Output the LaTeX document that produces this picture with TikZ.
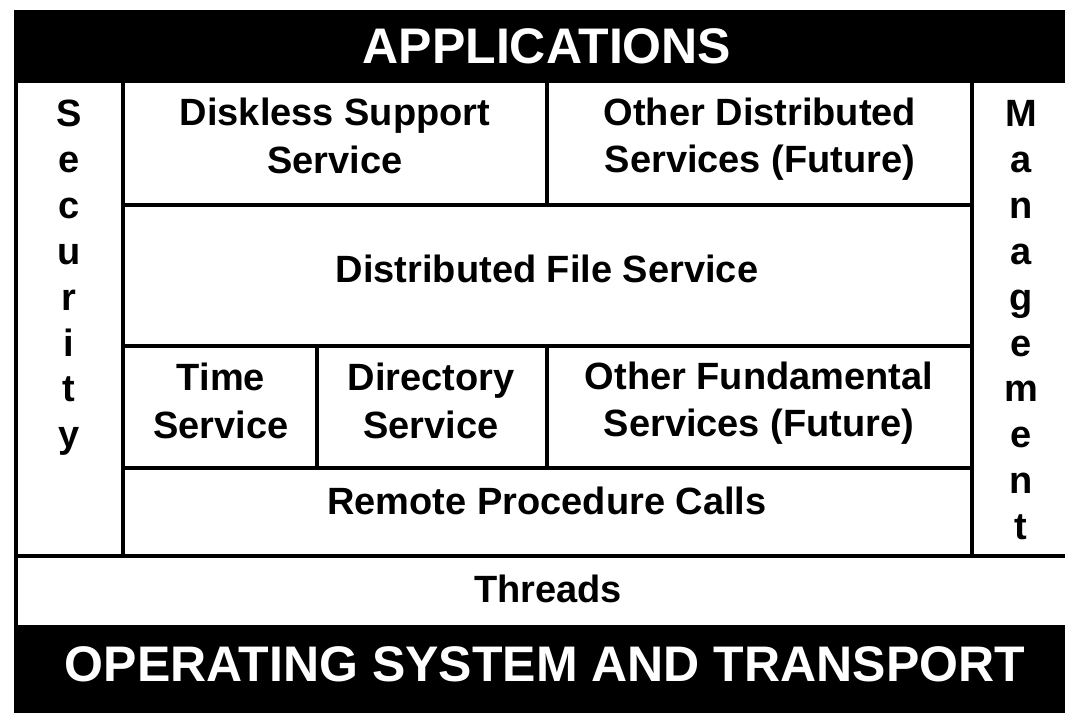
\documentclass[tikz,border=0pt]{standalone}
\usepackage{fontspec}
\setmainfont{Liberation Sans}[BoldFont={* Bold}]
\begin{document}
\begin{tikzpicture}[x=0.75pt,y=-0.75pt,
  rule/.style={line width=2.4pt,black},
  band/.style={fill=black,draw=none},
  body/.style={font=\bfseries\fontsize{28.5}{35.5}\selectfont,align=center,inner sep=0pt,text=black},
  head/.style={font=\bfseries\fontsize{37.5}{40}\selectfont,inner sep=0pt,text=white},
  letter/.style={font=\bfseries\fontsize{28.5}{34.5}\selectfont,inner sep=0pt,anchor=base}]
\useasboundingbox (0,0) rectangle (1065,713);
\fill[white] (0,0) rectangle (1065,713);
% black bands
\fill[band] (16,10) rectangle (1065,83);
\fill[band] (16,625) rectangle (1065,713);
\node[head] (apps) at (547,46) {APPLICATIONS};
\node[head] (os) at (545,664) {OPERATING SYSTEM AND TRANSPORT};
% grid lines
\draw[rule] (16,10) -- (16,713);
\draw[rule] (16,556) -- (1065,556);
\draw[rule] (123,83) -- (123,556);
\draw[rule] (972,83) -- (972,556);
\draw[rule] (123,205) -- (972,205);
\draw[rule] (123,346) -- (972,346);
\draw[rule] (123,468) -- (972,468);
\draw[rule] (547,83) -- (547,205);
\draw[rule] (547,346) -- (547,468);
\draw[rule] (317,346) -- (317,468);
% texts
\node[body] (disk) at (335,136) {Diskless Support\\Service};
\node[body] (odist) at (760,139) {Other Distributed\\Services (Future)};
\node[body] (dfs) at (547,269) {Distributed File Service};
\node[body] (time) at (221,401) {Time\\Service};
\node[body] (dir) at (431,401) {Directory\\Service};
\node[body] (ofund) at (759,403) {Other Fundamental\\Services (Future)};
\node[body] (rpc) at (547,501) {Remote Procedure Calls};
\node[body] (thr) at (548,589) {Threads};
% vertical words
\foreach \c [count=\i from 0] in {S,e,c,u,r,i,t,y}
  \node[letter] (sec\i) at (69,127+45.8*\i) {\c};
\foreach \c [count=\i from 0] in {M,a,n,a,g,e,m,e,n,t}
  \node[letter] (man\i) at (1021,127+45.8*\i) {\c};
\end{tikzpicture}
\end{document}
